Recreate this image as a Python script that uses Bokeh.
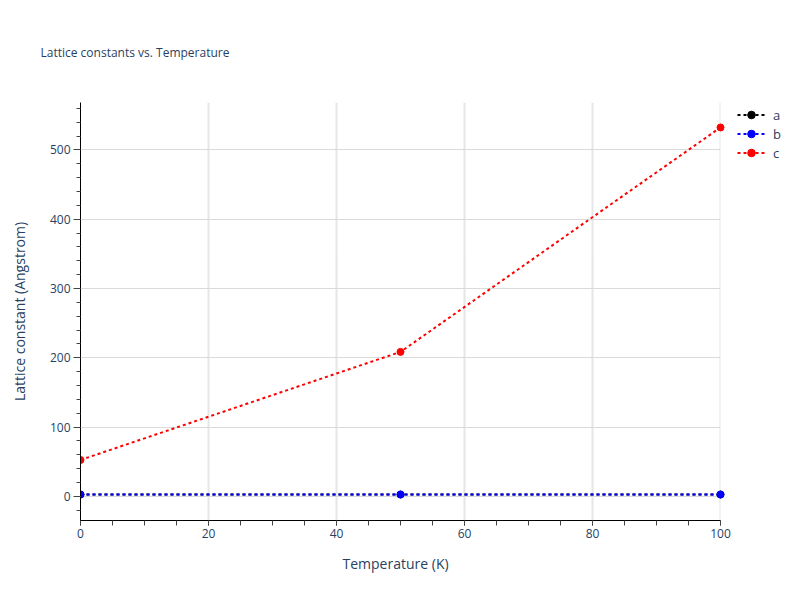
from bokeh.plotting import figure
from bokeh.models import (ColumnDataSource, Legend, LegendItem, SingleIntervalTicker, Range1d,
                          BoxAnnotation, Title)
from bokeh.embed import file_html
from bokeh.resources import INLINE

# ---- data ----
temperature = [0, 50, 100]
lattice_a = [2.6, 2.6, 2.6]
lattice_b = [2.6, 2.6, 2.6]
lattice_c = [52.5, 208.5, 532.5]
series_names = ["a", "b", "c"]
series_colors = ["black", "blue", "red"]

title_text = "Lattice constants vs. Temperature"
x_label = "Temperature (K)"
y_label = "Lattice constant (Angstrom)"

FONT = "Open Sans"
TXT = "#2a3f5f"

X_MIN, X_MAX = 0, 100
# the frame runs on to the right edge so that the legend can sit beside the plot area
X_VIEW_END = X_MAX * 720 / 640

p = figure(width=800, height=600, output_backend="svg", toolbar_location=None,
           x_range=Range1d(X_MIN, X_VIEW_END), y_range=Range1d(-34.9, 568.5),
           min_border_left=80, min_border_right=0, min_border_top=100, min_border_bottom=80,
           title=title_text)

p.outline_line_color = None
p.background_fill_color = "white"
p.border_fill_color = "white"

# title
p.title.text_font = FONT
p.title.text_font_size = "12px"
p.title.text_font_style = "normal"
p.title.text_color = TXT
p.title.align = "left"
p.title.offset = -40
p.title.standoff = 83

# axes
p.xaxis.ticker = SingleIntervalTicker(interval=20, num_minor_ticks=4)
p.yaxis.ticker = SingleIntervalTicker(interval=100, num_minor_ticks=5)
p.xaxis.bounds = (X_MIN, X_MAX)
for ax in (p.xaxis[0], p.yaxis[0]):
    ax.axis_line_color = "black"
    ax.axis_line_width = 1
    ax.major_tick_line_color = "#444444"
    ax.minor_tick_line_color = "#444444"
    ax.major_tick_in = 0
    ax.minor_tick_in = 0
    ax.major_label_text_font = FONT
    ax.major_label_text_font_size = "12px"
    ax.major_label_text_color = TXT
    ax.axis_label_text_font = FONT
    ax.axis_label_text_font_size = "14px"
    ax.axis_label_text_font_style = "normal"
    ax.axis_label_text_color = TXT

p.yaxis.axis_label = y_label
p.xaxis.major_tick_out = 5
p.xaxis.minor_tick_out = 5
p.yaxis.major_tick_out = 7
p.yaxis.minor_tick_out = 4
p.xaxis.major_label_standoff = 3
p.yaxis.major_label_standoff = 3
p.yaxis.axis_label_standoff = 18

# x axis title, centred under the plot area (not under the legend strip)
xt = Title(text=x_label, align="left", offset=262, standoff=22,
           text_font=FONT, text_font_size="14px", text_font_style="normal", text_color=TXT)
p.add_layout(xt, "below")

p.xgrid.grid_line_color = "#e6e6e6"
p.xgrid.grid_line_width = 2
p.ygrid.grid_line_color = "#dadada"
p.ygrid.grid_line_width = 1

# blank the area right of the plot (where the legend lives)
p.add_layout(BoxAnnotation(left=X_MAX, fill_color="white", fill_alpha=1,
                           line_alpha=0, level="underlay"))

items = []
for name, vals, col in zip(series_names, [lattice_a, lattice_b, lattice_c], series_colors):
    src = ColumnDataSource(dict(x=temperature, y=vals))
    ln = p.line("x", "y", source=src, line_color=col, line_width=2, line_dash="3 3")
    sc = p.scatter("x", "y", source=src, size=7, fill_color=col, line_color=col)
    items.append(LegendItem(label=name, renderers=[ln, sc]))

legend = Legend(items=items, location=(657, 358))
legend.background_fill_alpha = 0
legend.border_line_color = None
legend.padding = 0
legend.margin = 0
legend.spacing = 0
legend.glyph_width = 28
legend.glyph_height = 19
legend.label_height = 19
legend.label_standoff = 8
legend.label_text_font = FONT
legend.label_text_font_size = "13px"
legend.label_text_color = TXT
p.add_layout(legend, "center")

open("out.html", "w").write(file_html(p, INLINE))
